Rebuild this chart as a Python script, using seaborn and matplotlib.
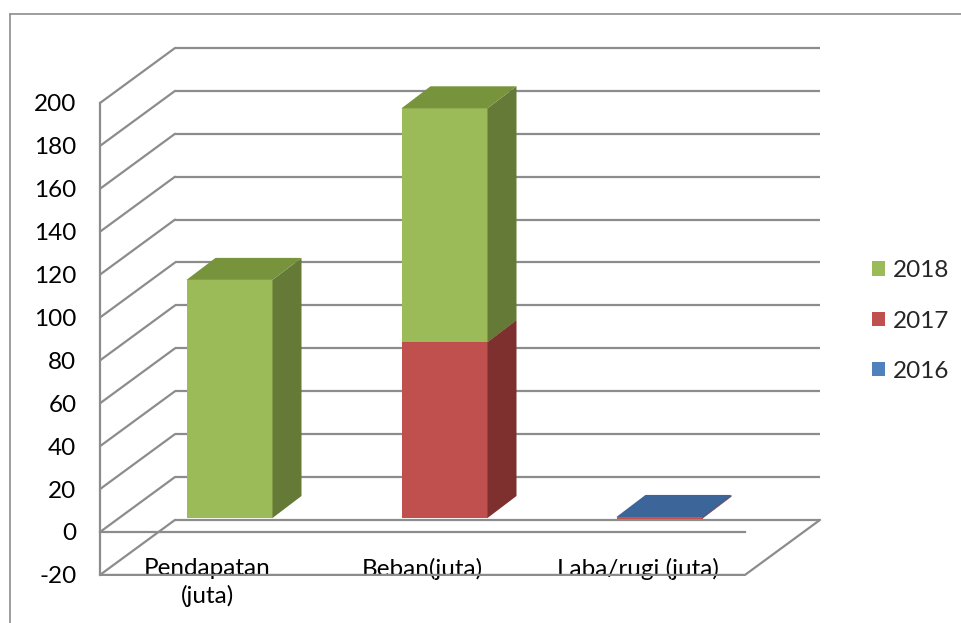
import numpy as np
import pandas as pd
import seaborn as sns
import matplotlib
matplotlib.use("Agg")
import matplotlib.pyplot as plt
from matplotlib.patches import Polygon, Rectangle
from matplotlib.lines import Line2D

# ---------------- data ----------------
categories = ["Pendapatan\n(juta)", "Beban(juta)", "Laba/rugi (juta)"]
years = ["2016", "2017", "2018"]
values_2016 = [0.0, 0.0, 0.5]
values_2017 = [0.0, 82.0, -0.3]
values_2018 = [111.0, 109.0, 0.0]
y_ticks = list(range(-20, 201, 20))

# ---------------- style ----------------
sns.set_style("white")
plt.rcParams['font.family'] = ['Lato', 'DejaVu Sans']

front_colors = {"2016": "#4F81BD", "2017": "#C0504D", "2018": "#9BBB59"}
side_colors = {"2016": "#385D8A", "2017": "#7D302E", "2018": "#647A36"}
top_colors = {"2016": "#3C659A", "2017": "#9A3E3B", "2018": "#77933C"}
grid_col = "#8C8C8C"
FS = 17.5

W, H = 961, 623
fig = plt.figure(figsize=(W / 100, H / 100), dpi=100)
ax = fig.add_axes([0, 0, 1, 1])

# pixel mapping (front plane)
PX_CAT = 215.0
X_LEFT_PX = 100.0
PX_VAL = 2.145
Y0_PX = 532.0
# depth direction of the box (full depth)
DX = 75.0 / PX_CAT
DY = 55.0 / PX_VAL
# bar placement in depth
OX = 22.0 / PX_CAT
OY = 14.0 / PX_VAL
BDX = 29.0 / PX_CAT
BDY = 22.0 / PX_VAL
BAR_W = 0.40

series = {"2016": values_2016, "2017": values_2017, "2018": values_2018}

# stacking computation
n = len(categories)
pos_base = np.zeros(n)
neg_base = np.zeros(n)
segments = []  # (year, cat index, bottom, height)
for yr in years:
    vals = np.array(series[yr], dtype=float)
    for i, v in enumerate(vals):
        if v >= 0:
            segments.append((yr, i, pos_base[i], v))
            pos_base[i] += v
        else:
            segments.append((yr, i, neg_base[i] + v, -v))
            neg_base[i] += v

# draw front faces with seaborn
bar_patches = {}
for yr in years:
    before = len(ax.patches)
    df = pd.DataFrame({"cat": categories, "val": np.abs(series[yr])})
    sns.barplot(data=df, x="cat", y="val", order=categories, color=front_colors[yr],
                saturation=1, width=BAR_W, ax=ax, linewidth=0, errorbar=None)
    for i, p in enumerate(ax.patches[before:before + n]):
        bar_patches[(yr, i)] = p

# per category stacking level for z-order
for i in range(n):
    segs = sorted([s for s in segments if s[1] == i], key=lambda s: s[2])
    for lvl, (yr, ci, bottom, h) in enumerate(segs):
        p = bar_patches[(yr, ci)]
        if h <= 0:
            p.set_visible(False)
            continue
        z = 5 + i + lvl * 0.1
        x0 = p.get_x() + OX
        y0 = bottom + OY
        p.set_x(x0)
        p.set_y(y0)
        p.set_height(h)
        p.set_zorder(z)
        x1 = x0 + p.get_width()
        y1 = y0 + h
        side = Polygon([(x1, y0), (x1 + BDX, y0 + BDY), (x1 + BDX, y1 + BDY), (x1, y1)],
                       closed=True, facecolor=side_colors[yr], edgecolor="none", zorder=z)
        top = Polygon([(x0, y1), (x1, y1), (x1 + BDX, y1 + BDY), (x0 + BDX, y1 + BDY)],
                      closed=True, facecolor=top_colors[yr], edgecolor="none", zorder=z)
        ax.add_patch(side)
        ax.add_patch(top)

# ---------------- walls / grid ----------------
xl, xr = -0.5, n - 0.5
for v in y_ticks:
    ax.plot([xl + DX, xr + DX], [v + DY, v + DY], color=grid_col, lw=1.6, zorder=1,
            solid_capstyle="butt")
    ax.plot([xl, xl + DX], [v, v + DY], color=grid_col, lw=1.6, zorder=1)
# floor
ymin = y_ticks[0]
ax.plot([xl, xr, xr + DX], [ymin, ymin, ymin + DY], color=grid_col, lw=1.6, zorder=2)

# ---------------- axes ----------------
ax.set_xlim(xl - X_LEFT_PX / PX_CAT, xl + (W - X_LEFT_PX) / PX_CAT)
ax.set_ylim(-(H - Y0_PX) / PX_VAL, Y0_PX / PX_VAL)

for s in ["top", "right"]:
    ax.spines[s].set_visible(False)
ax.spines["left"].set_position(("data", xl))
ax.spines["left"].set_bounds(ymin, y_ticks[-1])
ax.spines["bottom"].set_position(("data", 0))
ax.spines["bottom"].set_bounds(xl, xr)
for s in ["left", "bottom"]:
    ax.spines[s].set_color(grid_col)
    ax.spines[s].set_linewidth(1.6)
    ax.spines[s].set_zorder(3)

ax.set_yticks(y_ticks)
ax.set_yticklabels([str(v) for v in y_ticks], fontsize=FS, color="black")
ax.tick_params(axis="y", direction="out", length=5, width=1.6, color=grid_col, pad=12)

ax.set_xticks(np.arange(n + 1) - 0.5)
ax.set_xticklabels([""] * (n + 1))
ax.set_xticks(np.arange(n), minor=True)
ax.set_xticklabels(categories, minor=True, fontsize=FS, color="black")
ax.tick_params(axis="x", which="major", direction="out", length=6, width=1.6, color=grid_col)
ax.tick_params(axis="x", which="minor", length=0, pad=19)
for t in ax.get_xticklabels(minor=True):
    t.set_linespacing(1.3)
ax.set_xlabel("")
ax.set_ylabel("")

# ---------------- legend ----------------
handles = [Rectangle((0, 0), 1, 1, facecolor=front_colors[yr], edgecolor="none")
           for yr in years[::-1]]
leg = ax.legend(handles, years[::-1], loc="center left", bbox_to_anchor=(862 / W, 1 - 321 / H),
                frameon=False, fontsize=FS, handlelength=0.55, handleheight=0.55,
                handletextpad=0.3, labelspacing=1.2, borderaxespad=0)

# outer chart border
fig.add_artist(Line2D([10 / W, 10 / W], [0, 1 - 14 / H], color=grid_col, lw=1.2,
                      transform=fig.transFigure))
fig.add_artist(Line2D([10 / W, 1], [1 - 14 / H, 1 - 14 / H], color=grid_col, lw=1.2,
                      transform=fig.transFigure))

fig.savefig("out.png", dpi=100)
